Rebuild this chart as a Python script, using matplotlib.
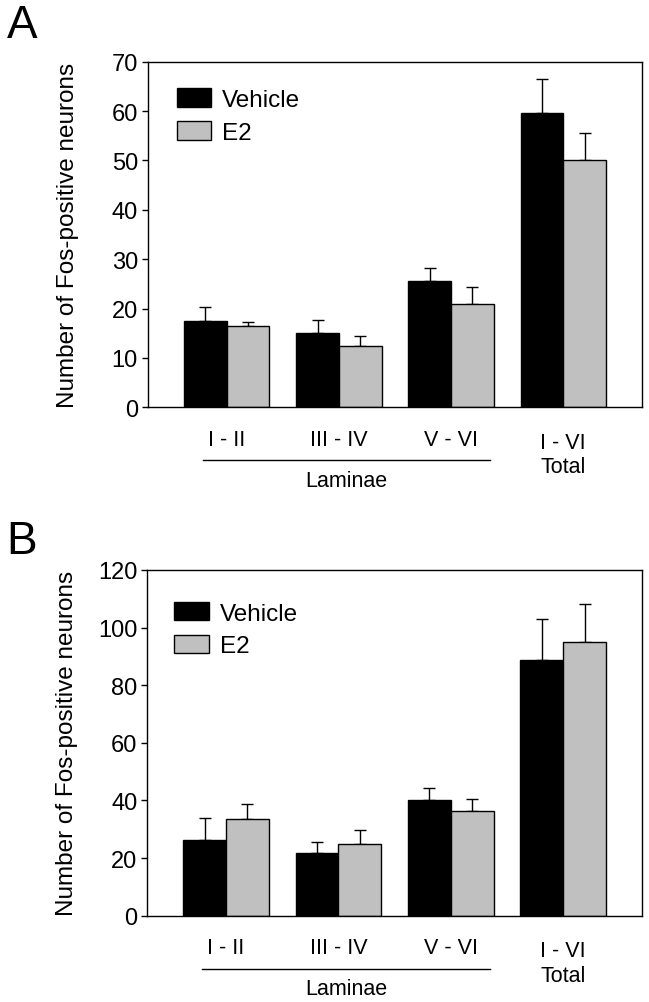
import numpy as np
import matplotlib.pyplot as plt
from matplotlib.lines import Line2D

plt.rcParams['font.family'] = ['Liberation Sans', 'DejaVu Sans']

# Data
groups = ['I - II', 'III - IV', 'V - VI', 'I - VI\nTotal']
series = ['Vehicle', 'E2']
colors = ['black', '#c0c0c0']

a_vehicle = [17.4, 15.1, 25.6, 59.7]
a_vehicle_err = [2.9, 2.6, 2.6, 6.8]
a_e2 = [16.4, 12.4, 21.0, 50.0]
a_e2_err = [0.9, 2.1, 3.3, 5.6]

b_vehicle = [26.3, 21.9, 40.3, 88.8]
b_vehicle_err = [7.7, 3.8, 4.2, 14.1]
b_e2 = [33.4, 25.0, 36.2, 94.9]
b_e2_err = [5.3, 4.7, 4.3, 13.4]

W, H = 649, 1003
fig = plt.figure(figsize=(W / 100, H / 100), dpi=100)


def px_axes(left, top, right, bottom):
    return fig.add_axes([left / W, 1 - bottom / H, (right - left) / W, (bottom - top) / H])


def panel(ax, veh, veh_err, e2, e2_err, ymax, ystep, letter, letter_y, leg_xy):
    x = np.arange(len(groups))
    w = 0.38
    vals = [(veh, veh_err), (e2, e2_err)]
    for k, (v, e) in enumerate(vals):
        xs = x + (k - 0.5) * w
        ax.bar(xs, v, width=w, color=colors[k], edgecolor='black', linewidth=1.0,
               label=series[k], zorder=2)
        ax.errorbar(xs, v, yerr=[np.zeros(len(v)), e], fmt='none', ecolor='black',
                    elinewidth=1.0, capsize=4, capthick=1.0, zorder=1)
    ax.set_xlim(-0.704, 3.699)
    ax.set_ylim(0, ymax)
    ax.set_yticks(np.arange(0, ymax + 1, ystep))
    ax.tick_params(axis='y', direction='out', length=4, width=1, labelsize=17, pad=3)
    ax.set_xticks([])
    for s in ax.spines.values():
        s.set_linewidth(1.0)
    ax.set_ylabel('Number of Fos-positive neurons', fontsize=17.5)
    ax.yaxis.set_label_coords(-0.14, 0.5)

    tr = ax.get_xaxis_transform()
    for i, g in enumerate(groups[:3]):
        ax.text(i, -0.092, g, transform=tr, ha='center', va='center', fontsize=15.5)
    ax.text(3, -0.137, groups[3], transform=tr, ha='center', va='center', fontsize=15.5,
            linespacing=1.2)
    ax.add_line(Line2D([-0.211, 2.347], [-0.153, -0.153], transform=tr, color='black',
                       linewidth=1.0, clip_on=False))
    ax.text(1.07, -0.212, 'Laminae', transform=tr, ha='center', va='center', fontsize=15.5)

    ax.legend(loc='upper left', bbox_to_anchor=leg_xy, frameon=False,
              fontsize=17.5, handlelength=1.42, handleheight=0.8,
              handletextpad=0.45, labelspacing=0.42, borderpad=0, borderaxespad=0)

    fig.text(22 / W, 1 - letter_y / H, letter, fontsize=33, ha='center', va='center')


ax_a = px_axes(147.7, 62.7, 641.7, 408.3)
panel(ax_a, a_vehicle, a_vehicle_err, a_e2, a_e2_err, 70, 10, 'A', 26, (0.059, 0.923))

ax_b = px_axes(147.0, 571.0, 641.7, 916.7)
panel(ax_b, b_vehicle, b_vehicle_err, b_e2, b_e2_err, 120, 20, 'B', 542, (0.055, 0.908))

fig.savefig('out.png', dpi=100)
